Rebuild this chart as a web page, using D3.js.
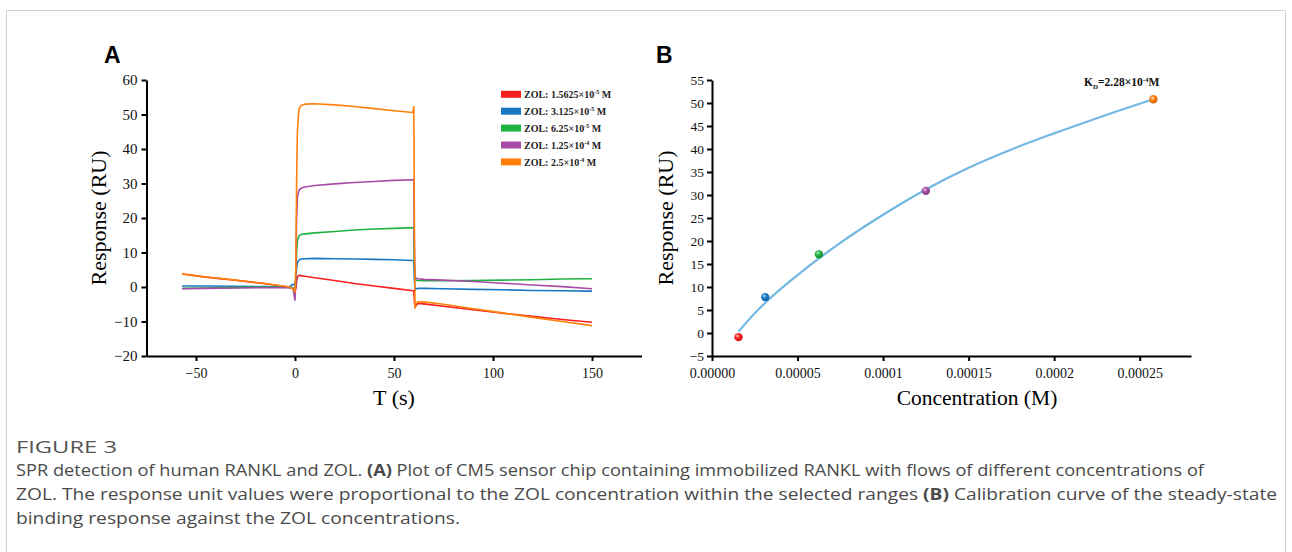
<!DOCTYPE html>
<html>
<head>
<meta charset="utf-8">
<script src="https://cdn.jsdelivr.net/npm/d3@7"></script>
<style>
	body { margin: 0; background: #fff; }
	svg { display: block; }
</style>
</head>
<body>
<div id="root"></div>
<script>
// ---- data, panel A (sensorgram) ----
const times = [-57, -45, -30, -15, -3, -1, 0, 0.4, 0.8, 1.2, 2, 3, 5, 10, 20, 30, 40, 50, 59.6, 60, 60.3, 60.6, 61, 62, 65, 75, 90, 105, 120, 135, 150];
const redValues = [3.75, 2.85, 1.95, 0.95, 0.0, -0.4, -1.0, -0.5, 1.5, 2.8, 3.4, 3.3, 3.1, 2.7, 1.9, 1.0, 0.3, -0.4, -1.1, -1.2, -4.0, -6.0, -5.5, -4.8, -4.9, -5.6, -6.6, -7.6, -8.5, -9.4, -10.2];
const blueValues = [0.3, 0.3, 0.2, 0.1, 0.0, 0.8, 0.5, 2.0, 5.5, 7.0, 7.8, 8.1, 8.2, 8.3, 8.2, 8.1, 8.0, 7.9, 7.7, 7.6, 2.0, -1.0, -0.6, -0.4, -0.4, -0.5, -0.7, -0.8, -1.0, -1.1, -1.2];
const greenValues = [-0.4, -0.3, -0.1, 0.0, -0.1, -0.2, -0.8, 3.0, 10.0, 13.5, 14.8, 15.2, 15.4, 15.7, 16.1, 16.5, 16.8, 17.0, 17.2, 17.1, 6.0, 2.2, 2.0, 1.9, 1.8, 1.8, 1.9, 2.0, 2.1, 2.3, 2.4];
const purpleValues = [-0.5, -0.4, -0.3, -0.2, -0.2, -0.4, -3.8, 2.0, 20.0, 26.0, 28.0, 28.6, 29.0, 29.4, 29.9, 30.3, 30.6, 30.9, 31.1, 31.0, 10.0, 3.0, 2.6, 2.4, 2.2, 2.0, 1.6, 1.1, 0.6, 0.1, -0.5];
const orangeValues = [3.8, 2.9, 2.0, 1.0, 0.0, -0.5, -1.5, 5.0, 30.0, 45.0, 51.5, 52.6, 53.0, 53.1, 52.8, 52.3, 51.7, 51.1, 50.6, 52.3, 20.0, -6.0, -5.0, -4.3, -4.3, -5.0, -6.3, -7.5, -8.8, -10.0, -11.2];

const legendMantissa = ["1.5625", "3.125", "6.25", "1.25", "2.5"];
const legendExponent = ["-5", "-5", "-5", "-4", "-4"];
const colors = ["#fa1e1e", "#1a78c2", "#1fb141", "#a64ca6", "#ff7f0a"];

const xTicksA = [-50, 0, 50, 100, 150];
const yTicksA = [-20, -10, 0, 10, 20, 30, 40, 50, 60];

// ---- data, panel B (steady state) ----
const concentrations = [0.0000155, 0.0000311, 0.0000625, 0.000125, 0.000258];
const responses = [-0.9, 7.8, 17.1, 30.9, 50.8];
const fitConc = [0.0000155, 0.000025, 0.000035, 0.00005, 0.000075, 0.0001, 0.000125, 0.00015, 0.000175, 0.0002, 0.000225, 0.000258];
const fitResp = [0.3, 4.3, 7.9, 12.6, 19.6, 25.7, 31.2, 35.9, 39.9, 43.4, 46.7, 50.8];

const xTicksB = [0, 0.00005, 0.0001, 0.00015, 0.0002, 0.00025];
const xTickLabelsB = ["0.00000", "0.00005", "0.0001", "0.00015", "0.0002", "0.00025"];
const yTicksB = [-5, 0, 5, 10, 15, 20, 25, 30, 35, 40, 45, 50, 55];

const captionLines = [
	[["SPR detection of human RANKL and ZOL. ", false], ["(A)", true], [" Plot of CM5 sensor chip containing immobilized RANKL with flows of different concentrations of", false]],
	[["ZOL. The response unit values were proportional to the ZOL concentration within the selected ranges ", false], ["(B)", true], [" Calibration curve of the steady-state", false]],
	[["binding response against the ZOL concentrations.", false]]
];
const captionWidths = [1188, 1261, 444];

const serif = "'Liberation Serif', 'Times New Roman', serif";

const svg = d3.select("#root")
	.append("svg")
		.attr("width", 1292)
		.attr("height", 552);

svg.append("rect").attr("width", 1292).attr("height", 552).attr("fill", "#fff");

// frame
svg.append("path")
	.attr("d", "M6.5,552 V10.5 H1285.5 V552")
	.attr("fill", "none")
	.attr("stroke", "#d0d0d0")
	.attr("stroke-width", 1);

const styleAxis = (g, fontSize) => {
	g.select(".domain").attr("stroke", "#000").attr("stroke-width", 2);
	g.selectAll(".tick line").attr("stroke", "#000").attr("stroke-width", 2);
	g.selectAll(".tick text")
		.attr("fill", "#111")
		.style("font-family", serif)
		.style("font-size", fontSize + "px");
};

// ================= panel A =================
const xA = d3.scaleLinear().domain([-75, 175]).range([146.5, 641.5]);
const yA = d3.scaleLinear().domain([-20, 60]).range([356, 80]);

const allSeries = [redValues, blueValues, greenValues, purpleValues, orangeValues];

const lineA = d3.line()
	.x((d, i) => xA(times[i]))
	.y(d => yA(d));

svg.append("g")
	.selectAll("path")
	.data(allSeries).enter()
	.append("path")
		.attr("d", d => lineA(d))
		.attr("fill", "none")
		.attr("stroke", (d, i) => colors[i])
		.attr("stroke-width", 1.6)
		.attr("stroke-linejoin", "round");

svg.append("g")
	.attr("transform", `translate(0,${yA(-20)})`)
	.call(d3.axisBottom(xA).tickValues(xTicksA).tickSize(5).tickPadding(7).tickSizeOuter(0))
	.call(g => styleAxis(g, 14));

svg.append("g")
	.attr("transform", `translate(${xA(-75)},0)`)
	.call(d3.axisLeft(yA).tickValues(yTicksA).tickSize(5).tickPadding(4).tickSizeOuter(0)
		.tickFormat(d => d < 0 ? "\u2212" + Math.abs(d) : d))
	.call(g => styleAxis(g, 15));

svg.append("text")
	.text("T (s)")
	.attr("x", 394).attr("y", 405)
	.attr("text-anchor", "middle")
	.style("font-family", serif)
	.style("font-size", "22px");

svg.append("text")
	.text("Response (RU)")
	.attr("transform", "translate(106,218) rotate(-90)")
	.attr("text-anchor", "middle")
	.style("font-family", serif)
	.style("font-size", "22px");

svg.append("text")
	.text("A")
	.attr("x", 104).attr("y", 63)
	.style("font-family", "'Liberation Sans', Arial, sans-serif")
	.style("font-weight", "bold")
	.style("font-size", "23px");

// legend
const legend = svg.append("g")
	.selectAll(".legend")
	.data(legendMantissa).enter()
	.append("g")
		.attr("class", "legend")
		.attr("transform", (d, i) => `translate(501,${94.3 + i * 16.9})`);

legend.append("rect")
	.attr("x", 0).attr("y", -3.5)
	.attr("width", 20).attr("height", 7)
	.attr("fill", (d, i) => colors[i]);

const legendText = legend.append("text")
	.attr("x", 23).attr("y", 3.6)
	.style("font-family", serif)
	.style("font-weight", "bold")
	.style("font-size", "10px")
	.attr("fill", "#222");
legendText.append("tspan").text(d => `ZOL: ${d}×10`);
legendText.append("tspan").text((d, i) => legendExponent[i])
	.attr("dy", -4).style("font-size", "6px");
legendText.append("tspan").text(" M").attr("dy", 4);

// ================= panel B =================
const xB = d3.scaleLinear().domain([0, 0.00028]).range([712, 1191]);
const yB = d3.scaleLinear().domain([-5, 55]).range([356, 80]);

const lineB = d3.line()
	.x((d, i) => xB(fitConc[i]))
	.y(d => yB(d))
	.curve(d3.curveMonotoneX);

svg.append("path")
	.attr("d", lineB(fitResp))
	.attr("fill", "none")
	.attr("stroke", "#72b8e2")
	.attr("stroke-width", 2.2);

const defs = svg.append("defs");
colors.forEach((c, i) => {
	const grad = defs.append("radialGradient")
		.attr("id", `ball${i}`)
		.attr("cx", "38%").attr("cy", "35%").attr("r", "65%");
	grad.append("stop").attr("offset", "0%").attr("stop-color", d3.interpolateRgb(c, "#fff")(0.7));
	grad.append("stop").attr("offset", "45%").attr("stop-color", c);
	grad.append("stop").attr("offset", "100%").attr("stop-color", d3.color(c).darker(0.6));
});

svg.append("g")
	.selectAll("circle")
	.data(responses).enter()
	.append("circle")
		.attr("cx", (d, i) => xB(concentrations[i]))
		.attr("cy", d => yB(d))
		.attr("r", 4.2)
		.attr("fill", (d, i) => `url(#ball${i})`);

svg.append("g")
	.attr("transform", `translate(0,${yB(-5)})`)
	.call(d3.axisBottom(xB).tickValues(xTicksB).tickSize(5).tickPadding(7).tickSizeOuter(0)
		.tickFormat((d, i) => xTickLabelsB[i]))
	.call(g => styleAxis(g, 14));

svg.append("g")
	.attr("transform", `translate(${xB(0)},0)`)
	.call(d3.axisLeft(yB).tickValues(yTicksB).tickSize(5).tickPadding(3).tickSizeOuter(0))
	.call(g => styleAxis(g, 13.5));

svg.append("text")
	.text("Concentration (M)")
	.attr("x", 977).attr("y", 405)
	.attr("text-anchor", "middle")
	.style("font-family", serif)
	.style("font-size", "21.5px");

svg.append("text")
	.text("Response (RU)")
	.attr("transform", "translate(673,218) rotate(-90)")
	.attr("text-anchor", "middle")
	.style("font-family", serif)
	.style("font-size", "22px");

svg.append("text")
	.text("B")
	.attr("x", 656).attr("y", 63)
	.style("font-family", "'Liberation Sans', Arial, sans-serif")
	.style("font-weight", "bold")
	.style("font-size", "23px");

const kd = svg.append("text")
	.attr("x", 1084).attr("y", 86)
	.style("font-family", serif)
	.style("font-weight", "bold")
	.style("font-size", "11.5px")
	.attr("fill", "#111");
kd.append("tspan").text("K");
kd.append("tspan").text("D").attr("dy", 2.5).style("font-size", "7px");
kd.append("tspan").text("=2.28×10").attr("dy", -2.5);
kd.append("tspan").text("-4").attr("dy", -4.5).style("font-size", "7px");
kd.append("tspan").text("M").attr("dy", 4.5);

// ================= caption =================
svg.append("text")
	.text("FIGURE 3")
	.attr("x", 16).attr("y", 453)
	.attr("textLength", 101)
	.attr("lengthAdjust", "spacingAndGlyphs")
	.attr("fill", "#555")
	.style("font-family", "'Open Sans', 'Noto Sans', sans-serif")
	.style("font-size", "16.5px");

const caption = svg.append("g")
	.selectAll(".caption")
	.data(captionLines).enter()
	.append("text")
		.attr("class", "caption")
		.attr("x", 16)
		.attr("y", (d, i) => 476 + i * 24)
		.attr("textLength", (d, i) => captionWidths[i])
		.attr("lengthAdjust", "spacingAndGlyphs")
		.attr("fill", "#4a4a4a")
		.style("font-family", "'Open Sans', 'Noto Sans', sans-serif")
		.style("font-size", "15.5px");

caption.selectAll("tspan")
	.data(d => d).enter()
	.append("tspan")
		.text(d => d[0])
		.style("font-weight", d => d[1] ? "bold" : "normal");
</script>
</body>
</html>
